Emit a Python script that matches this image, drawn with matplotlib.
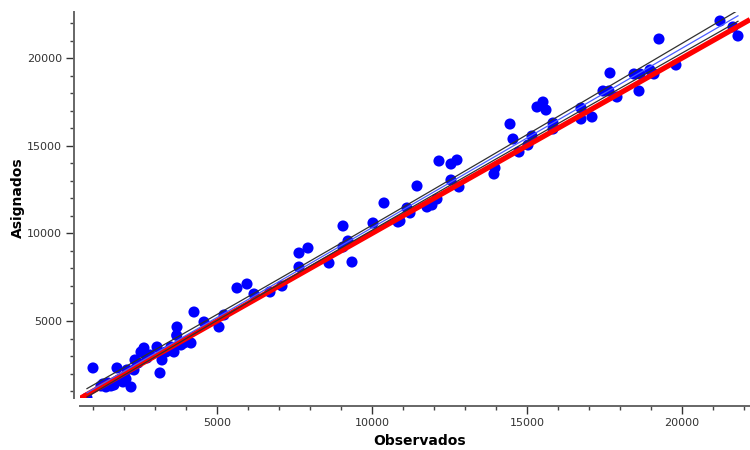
import numpy as np
import matplotlib
matplotlib.use('Agg')
from matplotlib import pyplot as plt
from matplotlib.ticker import MultipleLocator

# observed vs assigned values
observados = [806, 1000, 1258, 1419, 1581, 1677, 1774, 1839, 2226, 2097,
              2355, 2323, 2645, 2548, 2742, 3065, 3226, 3161, 3516, 3613,
              3710, 3839, 3935, 4161, 4258, 4581, 5065, 5226, 5645, 5968,
              6194, 6710, 7097, 7645, 7935, 7645, 8613, 9065, 9226, 9065,
              9355, 10032, 10387, 10839, 11129, 11226, 10903, 11452, 11774, 11935,
              12097, 12161, 12548, 12742, 12548, 12806, 13968, 13935, 14452, 14548,
              14742, 15032, 15161, 15323, 15516, 15613, 15839, 15839, 16742, 16742,
              17097, 17452, 17645, 17677, 17903, 18452, 18645, 18613, 18968, 19097,
              19258, 19806, 21226, 21645, 21806,
              1323, 1484, 1968, 2065, 2452, 2839, 3355, 3700]
asignados = [610, 2322, 1295, 1238, 1295, 1352, 2322, 1637, 1238, 2208,
             2778, 2208, 3461, 3233, 2892, 3518, 2778, 2036, 3518, 3233,
             4659, 3632, 3746, 3746, 5514, 4944, 4659, 5343, 6883, 7111,
             6541, 6655, 6997, 8879, 9164, 8080, 8308, 10420, 9564, 9222,
             8365, 10591, 11732, 10648, 11447, 11162, 10705, 12702, 11504, 11618,
             11960, 14127, 13956, 14185, 13043, 12645, 13728, 13386, 16237, 15382,
             14640, 15039, 15553, 17207, 17492, 17036, 16294, 15952, 17150, 16522,
             16637, 18120, 18120, 19147, 17778, 19090, 19090, 18120, 19318, 19090,
             21086, 19603, 22113, 21771, 21258,
             1409, 1466, 1523, 1694, 2607, 3062, 3233, 4180]

x = np.array(observados, dtype=float)
y = np.array(asignados, dtype=float)

# least squares fit with 95% confidence band for the mean
n = len(x)
b, a = np.polyfit(x, y, 1)
resid = y - (a + b * x)
s = np.sqrt(np.sum(resid ** 2) / (n - 2))
sxx = np.sum((x - x.mean()) ** 2)
xf = np.linspace(x.min(), x.max(), 200)
yf = a + b * xf
se = s * np.sqrt(1.0 / n + (xf - x.mean()) ** 2 / sxx)
band = 1.96 * se

fig = plt.figure(figsize=(7.5, 4.5), dpi=100)
ax = fig.add_axes([80 / 750, 52 / 450, 670 / 750, 386 / 450])

ax.scatter(x, y, s=64, color='#0000ff', edgecolors='none', zorder=2)

xlim = (581, 22194)
ylim = (609, 22627)
ax.plot(xlim, xlim, color='#ff0000', lw=3.8, zorder=3, solid_capstyle='butt')
ax.plot(xf, yf + band, color='#303030', lw=0.9, zorder=4)
ax.plot(xf, yf, color='#4a5cff', lw=0.9, zorder=4)
ax.plot(xf, yf - band, color='#303030', lw=0.9, zorder=4)

ax.set_xlim(xlim)
ax.set_ylim(ylim)

for side in ['top', 'right']:
    ax.spines[side].set_visible(False)
ax.spines['left'].set_position(('outward', 4.3))
ax.spines['bottom'].set_position(('outward', 5.8))
for side in ['left', 'bottom']:
    ax.spines[side].set_color('#666666')
    ax.spines[side].set_linewidth(1.4)

ax.xaxis.set_major_locator(MultipleLocator(5000))
ax.xaxis.set_minor_locator(MultipleLocator(1000))
ax.yaxis.set_major_locator(MultipleLocator(5000))
ax.yaxis.set_minor_locator(MultipleLocator(1000))
ax.tick_params(which='major', length=5.5, width=1, color='#333333',
               labelsize=8, labelcolor='#333333', pad=3)
ax.tick_params(which='minor', length=3, width=1, color='#444444')

ax.set_xlabel('Observados', fontsize=10, fontweight='bold')
ax.set_ylabel('Asignados', fontsize=10, fontweight='bold')
ax.xaxis.set_label_coords(0.507, -0.093)
ax.yaxis.label.set_va('center')
ax.yaxis.set_label_coords(-0.092, 0.52)

fig.savefig('out.png', dpi=100)
